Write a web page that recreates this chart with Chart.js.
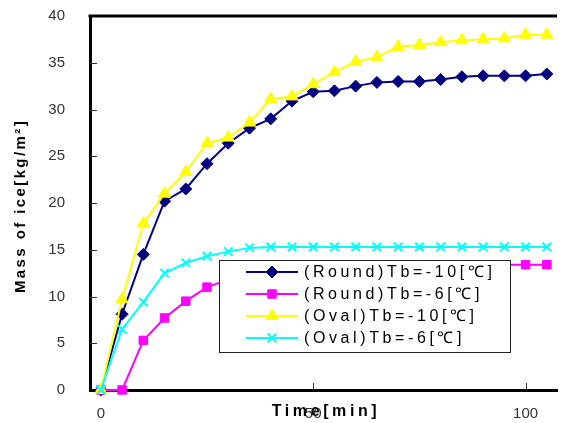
<!DOCTYPE html>
<html>
<head>
<meta charset="utf-8">
<script src="https://cdn.jsdelivr.net/npm/chart.js@4.4.1/dist/chart.umd.min.js"></script>
<style>
html,body{margin:0;padding:0;background:#fff;}
canvas{display:block;}
</style>
</head>
<body>
<canvas id="c" width="565" height="423"></canvas>
<script>
const timeMin = [0,5,10,15,20,25,30,35,40,45,50,55,60,65,70,75,80,85,90,95,100,105];
const roundTb10 = [0,8.1,14.5,20.2,21.5,24.2,26.4,28.0,29.0,30.9,31.9,32.0,32.5,32.9,33.0,33.0,33.2,33.5,33.6,33.6,33.6,33.8];
const roundTb6  = [0,0,5.3,7.7,9.5,11.0,11.8,12.4,12.8,13.0,13.1,13.2,13.4,13.4,13.4,13.4,13.4,13.4,13.4,13.4,13.4,13.4];
const ovalTb10  = [0,9.7,17.8,21.0,23.3,26.4,27.0,28.6,31.1,31.4,32.7,34.0,35.1,35.6,36.7,36.9,37.2,37.4,37.5,37.6,38.0,38.0];
const ovalTb6   = [0,6.5,9.4,12.5,13.6,14.3,14.8,15.2,15.3,15.3,15.3,15.3,15.3,15.3,15.3,15.3,15.3,15.3,15.3,15.3,15.3,15.3];
const seriesLabels = ['(Round)Tb=-10[\u2103]','(Round)Tb=-6[\u2103]','(Oval)Tb=-10[\u2103]','(Oval)Tb=-6[\u2103]'];
const xTickValues = [0,50,100];
const yTickValues = [0,5,10,15,20,25,30,35,40];
const xTitle = 'Time[min]';
const yTitle = 'Mass of ice[kg/m\u00B2]';

const pts = arr => arr.map((v,i)=>({x:timeMin[i], y:v}));

const styles = [
  {color:'#000080', pointStyle:'rectRot', radius:6, order:4},
  {color:'#FF00FF', pointStyle:'rect', radius:6, order:3},
  {color:'#FFFF00', pointStyle:'triangle', radius:7, order:2},
  {color:'#00FFFF', pointStyle:'crossRot', radius:6, order:1}
];
const seriesData = [roundTb10, roundTb6, ovalTb10, ovalTb6];

const datasets = seriesData.map((d,i)=>({
  label: seriesLabels[i],
  data: pts(d),
  borderColor: styles[i].color,
  backgroundColor: styles[i].color,
  pointBackgroundColor: styles[i].color,
  pointBorderColor: styles[i].color,
  pointStyle: styles[i].pointStyle,
  pointRadius: styles[i].radius,
  pointBorderWidth: i===3 ? 2 : 1,
  borderWidth: 2,
  tension: 0,
  clip: false,
  order: styles[i].order
}));

const decor = {
  id: 'decor',
  afterDraw(chart){
    const ctx = chart.ctx;
    const a = chart.chartArea;
    const xs = chart.scales.x, ys = chart.scales.y;
    ctx.save();
    // top border
    ctx.strokeStyle = '#000';
    ctx.lineWidth = 3;
    ctx.beginPath();
    ctx.moveTo(a.left-1.5, a.top);
    ctx.lineTo(a.right, a.top);
    ctx.stroke();
    // inward ticks
    ctx.lineWidth = 1;
    ctx.strokeStyle = '#333';
    yTickValues.forEach(v=>{
      if (v===0 || v===40) return;
      const y = Math.round(ys.getPixelForValue(v))+0.5;
      ctx.beginPath(); ctx.moveTo(a.left, y); ctx.lineTo(a.left+7, y); ctx.stroke();
    });
    xTickValues.forEach(v=>{
      if (v===0) return;
      const x = Math.round(xs.getPixelForValue(v))+0.5;
      ctx.beginPath(); ctx.moveTo(x, a.bottom); ctx.lineTo(x, a.bottom-7); ctx.stroke();
    });
    // axis titles
    ctx.fillStyle = '#000';
    ctx.font = 'bold 15px "Liberation Sans", Arial, sans-serif';
    ctx.letterSpacing = '2.4px';
    ctx.textAlign = 'center';
    ctx.textBaseline = 'middle';
    ctx.save();
    ctx.translate(21, 206);
    ctx.rotate(-Math.PI/2);
    ctx.fillText(yTitle, 0, 0);
    ctx.restore();
    ctx.font = 'bold 16px "Liberation Sans", Arial, sans-serif';
    ctx.letterSpacing = '3.6px';
    ctx.fillText(xTitle, 326, 412);
    // legend
    ctx.letterSpacing = '0px';
    const bx = 219.5, by = 260.5, bw = 291, bh = 92;
    ctx.fillStyle = '#fff';
    ctx.fillRect(bx, by, bw, bh);
    ctx.strokeStyle = '#222';
    ctx.lineWidth = 1;
    ctx.strokeRect(bx, by, bw, bh);
    chart.data.datasets.forEach((ds,i)=>{
      const y = 272 + i*22;
      ctx.strokeStyle = ds.borderColor;
      ctx.lineWidth = 2;
      ctx.beginPath(); ctx.moveTo(246, y); ctx.lineTo(298, y); ctx.stroke();
      ctx.fillStyle = ds.pointBackgroundColor;
      ctx.strokeStyle = ds.pointBorderColor;
      ctx.lineWidth = ds.pointBorderWidth;
      Chart.helpers.drawPoint(ctx, {pointStyle: ds.pointStyle, radius: ds.pointRadius, borderWidth: ds.pointBorderWidth, rotation: 0}, 272, y);
      ctx.fillStyle = '#000';
      ctx.font = '16px "Liberation Sans", Arial, sans-serif';
      ctx.letterSpacing = '3.6px';
      ctx.textAlign = 'left';
      ctx.fillText(ds.label, 304, y+1);
      ctx.letterSpacing = '0px';
    });
    ctx.restore();
  }
};

new Chart(document.getElementById('c'), {
  type: 'line',
  data: { datasets },
  options: {
    responsive: false,
    animation: false,
    devicePixelRatio: 1,
    layout: { padding: { top: 16, right: 0, left: 0, bottom: 0 } },
    plugins: { legend: { display: false }, tooltip: { enabled: false } },
    scales: {
      x: {
        type: 'linear',
        min: -2.55,
        max: 107.4,
        afterFit: s => { s.height = 33; s.paddingLeft = 0; s.paddingRight = 0; },
        afterBuildTicks: s => { s.ticks = xTickValues.map(v=>({value:v})); },
        grid: { display: false, drawTicks: false },
        border: { display: true, color: '#000', width: 3 },
        ticks: { padding: 15, color: '#333', font: { family: '"Liberation Sans", Arial, sans-serif', size: 15 }, maxRotation: 0 }
      },
      y: {
        type: 'linear',
        min: 0,
        max: 40,
        afterFit: s => { s.width = 90; s.paddingTop = 0; s.paddingBottom = 0; },
        afterBuildTicks: s => { s.ticks = yTickValues.map(v=>({value:v})); },
        grid: { display: false, drawTicks: false },
        border: { display: true, color: '#000', width: 3 },
        ticks: { padding: 25, color: '#333', font: { family: '"Liberation Sans", Arial, sans-serif', size: 15 } }
      }
    }
  },
  plugins: [decor]
});
</script>
</body>
</html>
